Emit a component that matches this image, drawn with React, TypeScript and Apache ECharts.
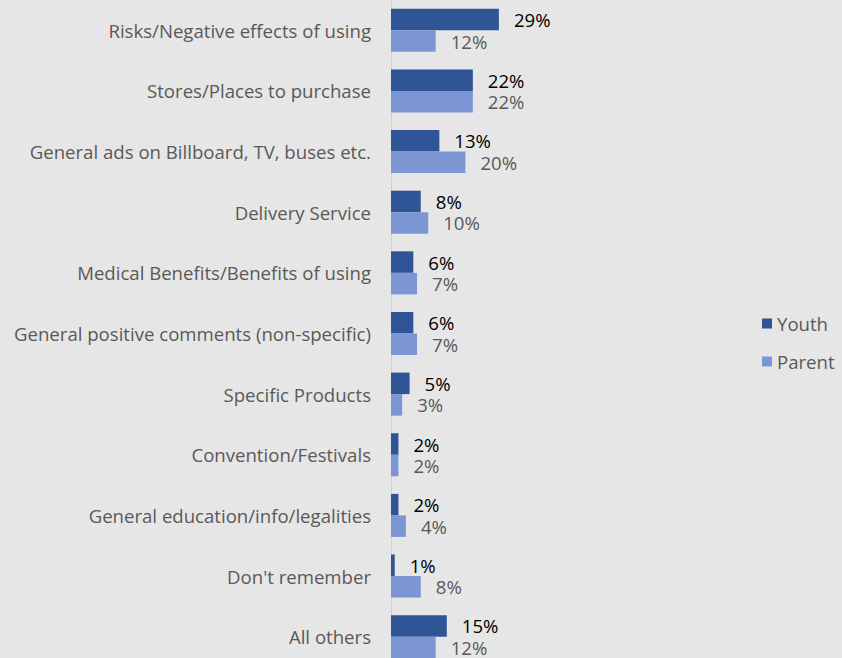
import React, { useEffect, useRef } from "react";
import * as echarts from "echarts";

const categories = [
  "Risks/Negative effects of using",
  "Stores/Places to purchase",
  "General ads on Billboard, TV, buses etc.",
  "Delivery Service",
  "Medical Benefits/Benefits of using",
  "General positive comments (non-specific)",
  "Specific Products",
  "Convention/Festivals",
  "General education/info/legalities",
  "Don't remember",
  "All others",
];
const youth = [29, 22, 13, 8, 6, 6, 5, 2, 2, 1, 15];
const parent = [12, 22, 20, 10, 7, 7, 3, 2, 4, 8, 12];

const FONT = "Open Sans";
const FS = 18.6;

export default function App() {
  const ref = useRef<HTMLDivElement>(null);
  useEffect(() => {
    document.body.style.margin = "0";
    const chart = echarts.init(ref.current!, null, { renderer: "svg" });
    chart.setOption({
      animation: false,
      backgroundColor: "#e7e6e6",
      textStyle: { fontFamily: FONT },
      legend: {
        orient: "vertical",
        left: 757,
        top: 309,
        itemWidth: 10,
        itemHeight: 10,
        itemGap: 19,
        icon: "rect",
        textStyle: { color: "#595959", fontSize: FS, fontFamily: FONT },
        data: ["Youth", "Parent"],
      },
      grid: { left: 391, top: 0, width: 186, height: 667, outerBoundsMode: "none", containLabel: false },
      xAxis: {
        type: "value",
        min: 0,
        max: 50,
        show: false,
      },
      yAxis: {
        type: "category",
        inverse: true,
        data: categories,
        axisLine: { show: true, lineStyle: { color: "#d0d0d0", width: 1 } },
        axisTick: { show: false },
        axisLabel: { color: "#595959", fontSize: FS, margin: 20, fontFamily: FONT },
      },
      series: [
        {
          name: "Youth",
          type: "bar",
          data: youth,
          barGap: "0%",
          barCategoryGap: "29%",
          itemStyle: { color: "#2f5597" },
          label: {
            show: true,
            position: "right",
            distance: 15,
            formatter: "{c}%",
            color: "#000000",
            fontSize: FS,
            lineHeight: 20,
            fontFamily: FONT,
          },
        },
        {
          name: "Parent",
          type: "bar",
          data: parent,
          barGap: "0%",
          barCategoryGap: "29%",
          itemStyle: { color: "#7c96d4" },
          label: {
            show: true,
            position: "right",
            distance: 15,
            formatter: "{c}%",
            color: "#595959",
            fontSize: FS,
            lineHeight: 20,
            fontFamily: FONT,
          },
        },
      ],
    });
    return () => chart.dispose();
  }, []);
  return <div ref={ref} style={{ width: 842, height: 658 }} />;
}
